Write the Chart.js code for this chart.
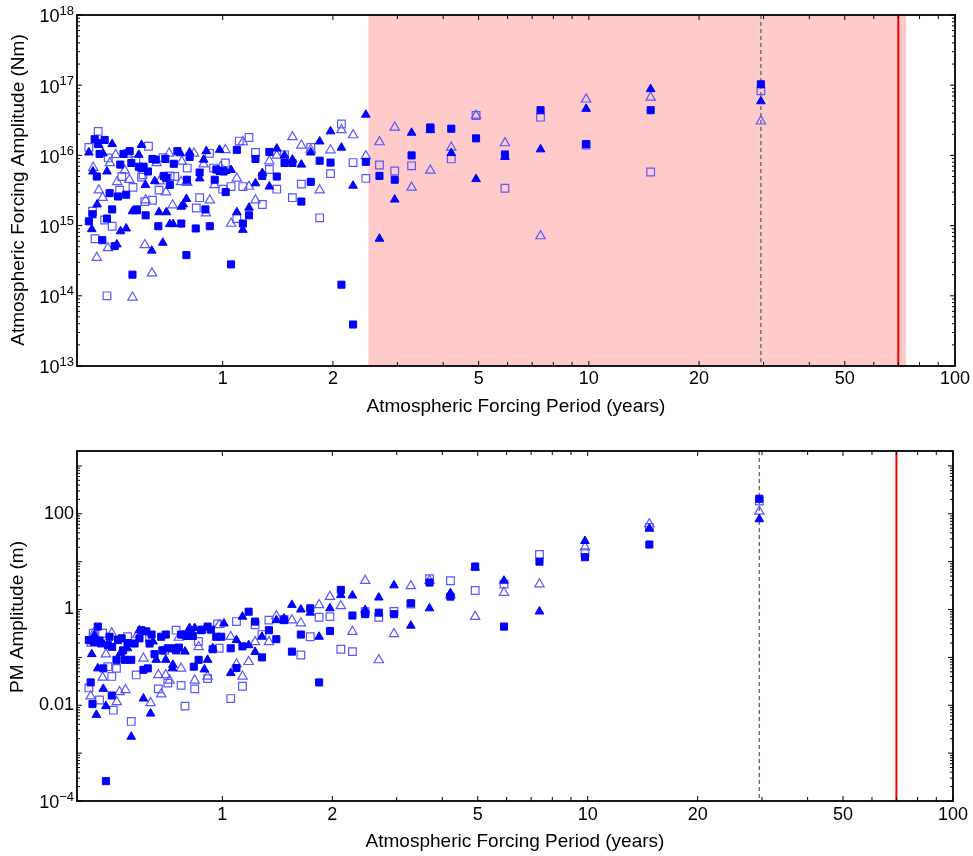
<!DOCTYPE html>
<html><head><meta charset="utf-8">
<script src="https://cdn.jsdelivr.net/npm/chart.js@4.4.1/dist/chart.umd.min.js"></script>
<style>
html,body{margin:0;padding:0;background:#fff;}
#wrap{position:relative;width:973px;height:856px;overflow:hidden;}
canvas{position:absolute;left:0;}
#c1{top:0;} #c2{top:428px;}
</style></head><body>
<div id="wrap"><canvas id="c1" width="973" height="428"></canvas><canvas id="c2" width="973" height="428"></canvas></div>
<script>
// ---------------- DATA (period in years, amplitude) ----------------
// Top panel: atmospheric forcing amplitude (Nm)
const topFilledSq = [[29.5,1.03e17],[14.75,4.4e16],[9.83,1.45e16],[7.38,4.4e16],[5.9,1.03e16],[4.92,1.75e16],[4.21,2.4e16],[3.69,2.5e16],[3.28,1.0e16],[2.95,4.5e15],[2.68,5.1e15],[2.46,8.1e15],[2.27,3.9e13],[2.11,1.44e14],[1.97,7.9e15],[1.84,8.4e15],[1.74,4.2e15],[1.64,2.2e15],[1.55,7.8e15],[1.475,7.8e15],[1.405,5.0e15],[1.341,1.12e16],[1.283,5.1e15],[1.229,8.9e15],[1.18,1.4e15],[1.135,1.07e15],[1.093,1.2e16],[1.054,2.8e14],[1.019,3.0e15],[1.006,5.9e15],[0.981,6.0e15],[0.961,6.3e15],[0.951,4.5e15],[0.922,9.8e14],[0.897,1.7e15],[0.865,5.7e15],[0.844,9.1e14],[0.812,9.5e15],[0.799,4.5e15],[0.796,3.8e14],[0.771,1.07e15],[0.752,1.15e16],[0.735,7.6e15],[0.717,3.8e15],[0.702,4.8e15],[0.697,8.9e15],[0.690,5.1e15],[0.667,9.8e14],[0.656,8.7e15],[0.643,8.9e15],[0.625,5.9e15],[0.616,1.4e15],[0.608,6.9e15],[0.600,6.6e15],[0.590,6.9e15],[0.583,1.7e15],[0.567,2.0e14],[0.563,7.8e15],[0.557,1.15e16],[0.545,2.75e15],[0.536,1.05e16],[0.525,7.4e15],[0.518,2.6e15],[0.507,5.1e14],[0.499,1.7e15],[0.491,2.9e15],[0.483,1.26e15],[0.476,1.66e16],[0.469,6.2e14],[0.461,1.05e16],[0.456,1.5e16],[0.453,5.0e15],[0.447,1.7e16],[0.441,1.45e15],[0.431,1.15e15]];
const topFilledTri = [[29.5,5.9e16],[14.75,8.8e16],[9.83,4.6e16],[7.38,1.22e16],[5.9,9.5e15],[4.92,4.6e15],[4.21,1.08e16],[3.69,2.3e16],[3.28,2.1e16],[2.95,2.35e15],[2.68,6.5e14],[2.46,3.8e16],[2.27,3.7e15],[2.11,1.29e16],[1.97,2.2e16],[1.84,1.58e16],[1.74,1.1e16],[1.64,7.4e15],[1.55,8.7e15],[1.475,1.0e16],[1.405,1.25e16],[1.341,3.6e15],[1.283,5.6e15],[1.229,4.0e15],[1.18,1.8e15],[1.135,8.7e14],[1.093,1.55e15],[1.054,6.2e15],[1.017,6.0e15],[0.981,1.2e16],[0.902,1.15e16],[0.887,8.7e15],[0.865,4.7e15],[0.812,1.1e16],[0.796,2.4e15],[0.780,2.0e15],[0.771,1.86e15],[0.766,1.07e16],[0.732,1.05e15],[0.717,1.05e15],[0.702,1.55e15],[0.686,5.7e14],[0.670,1.55e15],[0.652,4.3e15],[0.640,4.4e14],[0.615,3.8e15],[0.600,1.41e16],[0.590,1.02e16],[0.580,1.6e15],[0.567,1.6e15],[0.545,9.1e14],[0.526,8.3e14],[0.514,5.4e14],[0.499,1.45e16],[0.483,5.9e15],[0.471,1.07e16],[0.459,1.4e16],[0.454,2.0e15],[0.442,5.9e15],[0.439,8.9e14],[0.431,1.1e16]];
const topOpenSq = [[29.5,8.3e16],[14.75,5.8e15],[9.83,1.4e16],[7.38,3.5e16],[5.9,3.4e15],[4.92,3.7e16],[4.21,8.9e15],[3.69,2.4e16],[3.28,7.1e15],[2.95,6.0e15],[2.68,7.3e15],[2.46,4.7e15],[2.27,7.9e15],[2.11,2.8e16],[1.97,5.5e15],[1.84,1.29e15],[1.74,1.3e16],[1.64,3.9e15],[1.55,2.5e15],[1.475,1.02e16],[1.405,3.3e15],[1.341,6.3e15],[1.283,2.0e15],[1.229,1.1e16],[1.18,1.8e16],[1.135,3.6e15],[1.11,1.6e16],[1.093,1.26e15],[1.054,3.6e15],[1.017,7.8e15],[1.0,3.3e15],[0.944,6.6e15],[0.92,1.07e16],[0.865,2.5e15],[0.847,1.78e15],[0.80,6.6e15],[0.740,5.0e15],[0.718,5.1e15],[0.687,9.3e15],[0.670,3.2e15],[0.643,2.3e15],[0.627,1.35e16],[0.613,2.2e15],[0.606,5.3e15],[0.60,4.9e15],[0.579,8.5e15],[0.569,3.5e15],[0.549,1.07e16],[0.530,5.0e15],[0.523,3.2e15],[0.499,9.8e14],[0.487,9.2e15],[0.483,1.0e14],[0.476,1.2e15],[0.457,2.2e16],[0.448,6.5e14],[0.441,1.6e15],[0.431,1.3e16]];
const topOpenTri = [[29.5,3.06e16],[14.75,6.7e16],[9.83,6.3e16],[7.38,7.1e14],[5.9,1.5e16],[4.92,3.7e16],[4.21,1.3e16],[3.69,6.1e15],[3.28,3.5e15],[2.95,2.5e16],[2.68,1.55e16],[2.46,9.8e15],[2.27,1.95e16],[2.11,2.3e16],[1.97,1.19e16],[1.84,3.2e15],[1.74,1.2e16],[1.64,1.39e16],[1.55,1.83e16],[1.405,1.0e16],[1.341,8.3e15],[1.229,2.3e15],[1.18,3.6e15],[1.135,1.55e16],[1.093,4.7e15],[1.054,1.07e15],[1.017,1.2e16],[0.987,6.8e15],[0.95,3.8e15],[0.922,2.3e15],[0.90,1.5e15],[0.887,7.5e15],[0.835,1.07e16],[0.80,4.1e15],[0.796,4.2e15],[0.773,8.2e15],[0.77,4.2e15],[0.73,1.96e15],[0.714,1.07e16],[0.70,3.0e15],[0.672,4.3e15],[0.66,7.8e15],[0.641,2.1e14],[0.616,2.3e15],[0.613,5.3e14],[0.567,9.5e13],[0.556,4.5e15],[0.54,6.1e15],[0.515,4.2e15],[0.51,1.02e16],[0.492,7.8e15],[0.486,4.8e14],[0.47,2.5e15],[0.459,3.2e15],[0.453,3.5e14],[0.443,6.7e15]];

// Bottom panel: polar motion amplitude (m)
const botFilledSq = [[29.5,206],[14.75,22.8],[9.83,12.4],[7.38,10],[5.9,0.44],[4.92,7.9],[4.21,1.86],[3.69,3.66],[3.28,1.35],[2.95,0.80],[2.68,0.86],[2.46,0.80],[2.27,0.75],[2.11,2.57],[1.97,0.356],[1.84,0.030],[1.74,1.06],[1.64,0.30],[1.55,0.132],[1.475,0.60],[1.405,0.24],[1.341,0.37],[1.283,0.10],[1.229,0.56],[1.18,0.90],[1.135,0.17],[1.093,0.060],[1.054,0.155],[0.993,0.27],[0.962,0.27],[0.941,0.148],[0.93,0.38],[0.911,0.44],[0.88,0.38],[0.874,0.37],[0.861,0.089],[0.835,0.064],[0.83,0.28],[0.821,0.31],[0.80,0.28],[0.787,0.30],[0.771,0.30],[0.76,0.16],[0.747,0.14],[0.74,0.155],[0.709,0.155],[0.70,0.30],[0.685,0.14],[0.68,0.27],[0.652,0.117],[0.64,0.30],[0.632,0.195],[0.625,0.059],[0.619,0.35],[0.608,0.055],[0.60,0.37],[0.593,0.25],[0.575,0.195],[0.563,0.089],[0.55,0.20],[0.54,0.089],[0.535,0.14],[0.53,0.25],[0.518,0.23],[0.513,0.089],[0.499,0.166],[0.498,0.016],[0.491,0.27],[0.486,0.18],[0.48,0.00026],[0.472,0.059],[0.465,0.196],[0.461,0.224],[0.456,0.44],[0.445,0.21],[0.441,0.0106],[0.436,0.030],[0.431,0.23]];
const botFilledTri = [[29.5,77],[14.75,49],[9.83,27],[7.38,0.91],[5.9,4.0],[4.92,7.5],[4.21,2.2],[3.69,1.06],[3.28,0.46],[2.95,3.2],[2.68,1.78],[2.46,0.98],[2.27,1.96],[2.11,2.0],[1.97,1.06],[1.84,0.27],[1.74,0.86],[1.64,1.0],[1.55,1.25],[1.475,0.65],[1.405,0.60],[1.283,0.27],[1.229,0.13],[1.18,0.18],[1.135,0.71],[1.093,0.23],[1.054,0.047],[1.01,0.51],[0.941,0.155],[0.911,0.089],[0.893,0.056],[0.84,0.41],[0.813,0.41],[0.79,0.132],[0.732,0.07],[0.73,0.059],[0.70,0.089],[0.659,0.089],[0.646,0.215],[0.636,0.0067],[0.608,0.0138],[0.593,0.37],[0.563,0.0022],[0.55,0.155],[0.526,0.123],[0.49,0.18],[0.48,0.0096],[0.472,0.022],[0.456,0.059],[0.452,0.0063],[0.446,0.29],[0.439,0.117]];
const botOpenSq = [[29.5,185],[14.75,52],[9.83,15.5],[7.38,14.1],[5.9,3.4],[4.92,2.5],[4.21,4.0],[3.69,4.4],[3.28,1.3],[2.95,0.91],[2.68,0.69],[2.46,0.9],[2.27,0.132],[2.11,0.148],[1.97,0.71],[1.84,0.69],[1.74,0.27],[1.64,0.112],[1.475,0.62],[1.341,0.60],[1.283,0.30],[1.229,0.48],[1.135,0.025],[1.093,0.56],[1.054,0.0138],[0.98,0.155],[0.97,0.50],[0.911,0.036],[0.86,0.215],[0.84,0.022],[0.79,0.0096],[0.771,0.026],[0.747,0.37],[0.709,0.029],[0.695,0.14],[0.668,0.022],[0.632,0.25],[0.581,0.043],[0.563,0.0046],[0.55,0.27],[0.513,0.059],[0.503,0.0079],[0.498,0.040],[0.486,0.064],[0.47,0.32],[0.461,0.0129],[0.443,0.32],[0.431,0.023]];
const botOpenTri = [[29.5,112],[14.75,61],[9.83,20],[7.38,3.4],[5.9,2.26],[4.92,0.71],[4.21,2.0],[3.69,4.0],[3.28,3.1],[2.95,0.31],[2.68,0.088],[2.46,4.0],[2.27,0.345],[2.11,1.19],[1.97,1.86],[1.84,1.25],[1.64,0.52],[1.55,0.60],[1.405,0.73],[1.341,0.21],[1.229,0.21],[1.18,0.081],[1.135,0.040],[1.093,0.072],[1.054,0.27],[0.98,0.48],[0.911,0.040],[0.861,0.166],[0.84,0.033],[0.771,0.059],[0.76,0.26],[0.717,0.033],[0.70,0.043],[0.68,0.017],[0.668,0.043],[0.636,0.0112],[0.608,0.095],[0.585,0.30],[0.543,0.021],[0.523,0.019],[0.514,0.0117],[0.498,0.32],[0.48,0.117],[0.47,0.038],[0.445,0.32],[0.438,0.195],[0.436,0.0155]];

// Reference lines / regions (years)
const dashedPeriod = 29.5;
const redPeriod = 70;
const shadedRange = [2.5, 73.5];

// Ticks
const xTickValues = [1, 2, 5, 10, 20, 50, 100];
const xTickText = ['1', '2', '5', '10', '20', '50', '100'];
const xMinorValues = [3, 4, 6, 7, 8, 9, 30, 40, 60, 70, 80, 90];
const topYTickValues = [1e13, 1e14, 1e15, 1e16, 1e17, 1e18];
const topYTickText = ['10^13', '10^14', '10^15', '10^16', '10^17', '10^18'];
const botYTickValues = [1e-4, 1e-2, 1, 100];
const botYTickText = ['10^\u22124', '0.01', '1', '100'];

// ---------------- drawing ----------------
const FONT = '"Liberation Sans", Arial, Helvetica, sans-serif';
const toXY = arr => arr.map(([x, y]) => ({x, y}));

function styleSet(data, kind) {
  const base = {data: toXY(data), showLine: false, pointHoverRadius: 5};
  if (kind === 'fs') return Object.assign(base, {pointStyle: 'rect', pointRadius: 5, backgroundColor: '#0000ff', borderColor: '#0000ff', borderWidth: 1});
  if (kind === 'ft') return Object.assign(base, {pointStyle: 'triangle', pointRadius: 5, backgroundColor: '#0000ff', borderColor: '#0000ff', borderWidth: 1});
  if (kind === 'os') return Object.assign(base, {pointStyle: 'rect', pointRadius: 5.4, backgroundColor: 'rgba(0,0,0,0)', borderColor: '#5858ff', borderWidth: 1.2});
  return Object.assign(base, {pointStyle: 'triangle', pointRadius: 5.4, backgroundColor: 'rgba(0,0,0,0)', borderColor: '#5858ff', borderWidth: 1.2});
}

function drawSupText(ctx, text, xRight, yTick, mainOff, expOff) {
  const parts = text.split('^');
  ctx.textBaseline = 'middle';
  ctx.textAlign = 'left';
  if (parts.length === 1) {
    ctx.font = '18px ' + FONT;
    const w = ctx.measureText(parts[0]).width;
    ctx.fillText(parts[0], xRight - w, yTick);
    return;
  }
  ctx.font = '18px ' + FONT;
  const wb = ctx.measureText(parts[0]).width;
  ctx.font = '13px ' + FONT;
  const we = ctx.measureText(parts[1]).width;
  const x0 = xRight - wb - we;
  ctx.font = '18px ' + FONT;
  ctx.fillText(parts[0], x0, yTick + mainOff);
  ctx.font = '13px ' + FONT;
  ctx.fillText(parts[1], x0 + wb, yTick + expOff);
}

function axesPlugin(cfg) {
  return {
    id: 'matlabAxes',
    beforeDatasetsDraw(chart) {
      const {ctx, chartArea: a, scales: {x}} = chart;
      ctx.save();
      if (cfg.shade) {
        const x0 = x.getPixelForValue(cfg.shade[0]);
        const x1 = Math.min(x.getPixelForValue(cfg.shade[1]), a.right);
        ctx.fillStyle = '#ffcaca';
        ctx.fillRect(x0, a.top, x1 - x0, a.bottom - a.top);
      }
      const xd = x.getPixelForValue(cfg.dash);
      ctx.strokeStyle = '#6a6a6a';
      ctx.lineWidth = 1.4;
      ctx.setLineDash([4, 3]);
      ctx.beginPath(); ctx.moveTo(xd, a.top); ctx.lineTo(xd, a.bottom); ctx.stroke();
      ctx.setLineDash([]);
      const xr = x.getPixelForValue(cfg.red);
      ctx.strokeStyle = '#ff0000';
      ctx.lineWidth = 2;
      ctx.beginPath(); ctx.moveTo(xr, a.top); ctx.lineTo(xr, a.bottom); ctx.stroke();
      ctx.restore();
    },
    afterDatasetsDraw(chart) {
      const {ctx, chartArea: a, scales: {x, y}} = chart;
      ctx.save();
      ctx.strokeStyle = '#000';
      ctx.lineWidth = 1;
      const line = (x0, y0, x1, y1) => { ctx.beginPath(); ctx.moveTo(x0, y0); ctx.lineTo(x1, y1); ctx.stroke(); };
      const tx = (v, len) => { const p = x.getPixelForValue(v); line(p, a.bottom, p, a.bottom - len); line(p, a.top, p, a.top + len); };
      const ty = (v, len) => { const p = y.getPixelForValue(v); if (p < a.top - 0.5 || p > a.bottom + 0.5) return; line(a.left, p, a.left + len, p); line(a.right, p, a.right - len, p); };
      xTickValues.forEach(v => tx(v, 5));
      xMinorValues.forEach(v => tx(v, 4));
      const e0 = Math.floor(Math.log10(y.min)), e1 = Math.ceil(Math.log10(y.max));
      for (let e = e0; e <= e1; e++) {
        ty(Math.pow(10, e), 5);
        for (let m = 2; m <= 9; m++) ty(m * Math.pow(10, e), 3);
      }
      // frame
      ctx.lineWidth = 1.8;
      ctx.strokeRect(a.left, a.top, a.right - a.left, a.bottom - a.top);
      // labels
      ctx.fillStyle = '#000';
      ctx.font = '18px ' + FONT;
      ctx.textAlign = 'center';
      ctx.textBaseline = 'middle';
      xTickValues.forEach((v, i) => ctx.fillText(xTickText[i], x.getPixelForValue(v), a.bottom + cfg.xLabGap));
      cfg.yVals.forEach((v, i) => drawSupText(ctx, cfg.yText[i], a.left - 3, y.getPixelForValue(v), cfg.mainOff, cfg.expOff));
      ctx.font = '19px ' + FONT;
      ctx.textAlign = 'center';
      ctx.textBaseline = 'middle';
      ctx.fillText(cfg.xTitle, (a.left + a.right) / 2, cfg.xTitleY);
      ctx.translate(cfg.yTitleX, cfg.yTitleY);
      ctx.rotate(-Math.PI / 2);
      ctx.fillText(cfg.yTitle, 0, 0);
      ctx.restore();
    }
  };
}

function makeChart(id, sets, yMin, yMax, pad, cfg) {
  return new Chart(document.getElementById(id), {
    type: 'scatter',
    data: {datasets: [styleSet(sets[0], 'fs'), styleSet(sets[1], 'ft'), styleSet(sets[2], 'os'), styleSet(sets[3], 'ot')]},
    options: {
      responsive: false, animation: false, events: [], devicePixelRatio: 1,
      layout: {padding: pad},
      plugins: {legend: {display: false}, tooltip: {enabled: false}},
      scales: {
        x: {type: 'logarithmic', min: 0.4, max: 100, display: false, bounds: 'data'},
        y: {type: 'logarithmic', min: yMin, max: yMax, display: false, bounds: 'data'}
      }
    },
    plugins: [axesPlugin(cfg)]
  });
}

makeChart('c1', [topFilledSq, topFilledTri, topOpenSq, topOpenTri], 1e13, 1e18,
  {top: 15, left: 77, right: 18, bottom: 62},
  {shade: shadedRange, dash: dashedPeriod, red: redPeriod, yVals: topYTickValues, yText: topYTickText,
   mainOff: 2.5, expOff: -4, xLabGap: 13, xTitle: 'Atmospheric Forcing Period (years)', xTitleY: 407,
   yTitle: 'Atmospheric Forcing Amplitude (Nm)', yTitleX: 19, yTitleY: 190});

makeChart('c2', [botFilledSq, botFilledTri, botOpenSq, botOpenTri], 1e-4, 2050,
  {top: 23, left: 77, right: 20, bottom: 55},
  {shade: null, dash: dashedPeriod, red: redPeriod, yVals: botYTickValues, yText: botYTickText,
   mainOff: 2, expOff: -4, xLabGap: 14, xTitle: 'Atmospheric Forcing Period (years)', xTitleY: 414,
   yTitle: 'PM Amplitude (m)', yTitleX: 18, yTitleY: 189});
</script>
</body></html>
